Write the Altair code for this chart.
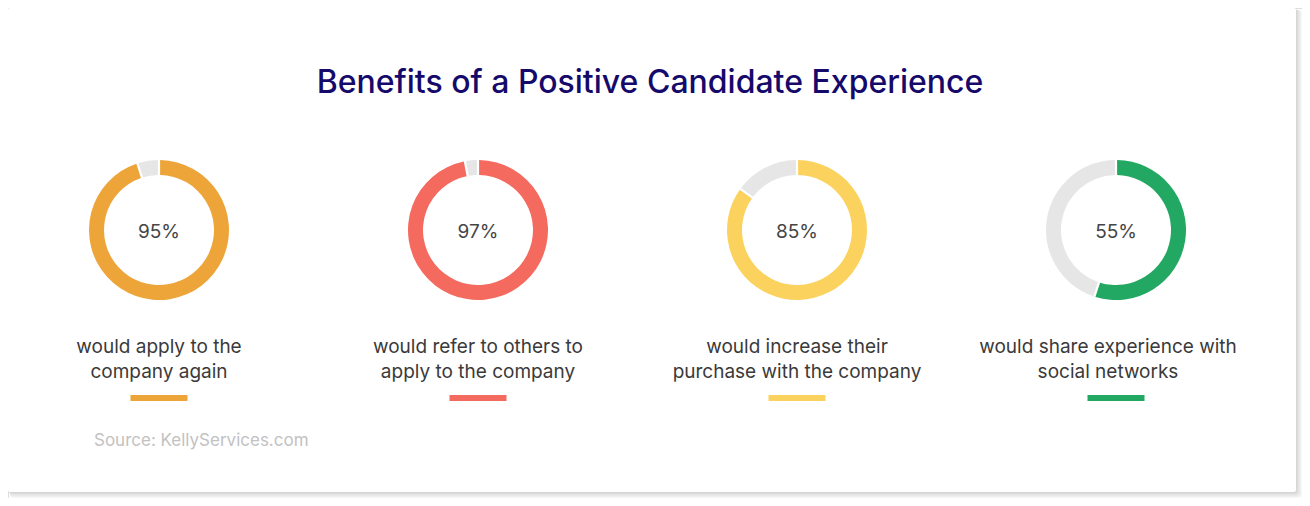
"""Donut summary card: benefits of a positive candidate experience."""

import altair as alt
import pandas as pd

# data
items = ["apply", "refer", "purchase", "share"]
percents = [95, 97, 85, 55]
line1 = ["would apply to the", "would refer to others to", "would increase their", "would share experience with"]
line2 = ["company again", "apply to the company", "purchase with the company", "social networks"]
colors = ["#EDA539", "#F46A5F", "#FCD25E", "#22A862"]
rest_color = "#E6E6E6"

title_text = "Benefits of a Positive Candidate Experience"
source_text = "Source: KellyServices.com"

FONT = "Inter"
W, H = 1294, 490

# arc table: coloured part from 12 o'clock clockwise, grey remainder after it
rows = []
for item, pct in zip(items, percents):
    rows.append({"item": item, "key": item, "start": 0, "end": pct})
    rows.append({"item": item, "key": "rest", "start": pct, "end": 100})
df_arcs = pd.DataFrame(rows)

df_items = pd.DataFrame({
    "item": items,
    "key": items,
    "pct_label": [f"{p}%" for p in percents],
    "line1": line1,
    "line2": line2,
})

x_enc = alt.X("item:N", scale=alt.Scale(type="point", domain=items, range=[151, 1108], padding=0), axis=None)
color_scale = alt.Scale(domain=items + ["rest"], range=colors + [rest_color])


def caption(field: str, y: float) -> alt.LayerChart:
    """Caption line under the donuts; the last one sits a bit left in the original."""
    base = alt.Chart(df_items).encode(x=x_enc, y=alt.value(y), text=f"{field}:N")
    style = dict(font=FONT, fontSize=19, color="#3A3A3A", align="center", baseline="middle")
    main = base.mark_text(**style).transform_filter(alt.datum.item != "share")
    last = base.mark_text(dx=-8, **style).transform_filter(alt.datum.item == "share")
    return main + last


# card with a soft drop shadow
shadow_layers = []
for i in range(1, 8):
    shadow_layers.append(
        alt.Chart(pd.DataFrame({"s": [i]}))
        .mark_rect(color="#000000", opacity=0.025, cornerRadius=3)
        .encode(
            x=alt.value(i * 0.3),
            x2=alt.value(1288 + i * 0.9),
            y=alt.value(i * 0.3),
            y2=alt.value(484 + i * 0.9),
        )
    )

card = (
    alt.Chart(pd.DataFrame({"s": [0]}))
    .mark_rect(color="white", cornerRadius=2)
    .encode(x=alt.value(0), x2=alt.value(1288), y=alt.value(0), y2=alt.value(484))
)

title = (
    alt.Chart(pd.DataFrame({"t": [title_text]}))
    .mark_text(font=FONT, fontSize=32, fontWeight=500, color="#150A6B", align="center", baseline="middle")
    .encode(text="t:N", x=alt.value(642), y=alt.value(75))
)

arcs = (
    alt.Chart(df_arcs)
    .mark_arc(radius=70, radius2=55, padAngle=0.025)
    .encode(
        x=x_enc,
        y=alt.value(222),
        theta=alt.Theta("start:Q", scale=alt.Scale(domain=[0, 100])),
        theta2="end:Q",
        color=alt.Color("key:N", scale=color_scale, legend=None),
    )
)

pct_text = (
    alt.Chart(df_items)
    .mark_text(font=FONT, fontSize=19, color="#454545", align="center", baseline="middle")
    .encode(x=x_enc, y=alt.value(224), text="pct_label:N")
)

bars = (
    alt.Chart(df_items)
    .mark_tick(orient="horizontal", size=57, thickness=6, opacity=1)
    .encode(x=x_enc, y=alt.value(390), color=alt.Color("key:N", scale=color_scale, legend=None))
)

source = (
    alt.Chart(pd.DataFrame({"t": [source_text]}))
    .mark_text(font=FONT, fontSize=17, color="#C2C2C2", align="left", baseline="middle")
    .encode(text="t:N", x=alt.value(86), y=alt.value(433))
)

chart = (
    alt.layer(
        *shadow_layers, card, title, arcs, pct_text,
        caption("line1", 339), caption("line2", 364), bars, source,
    )
    .properties(width=W, height=H, padding=0, autosize=alt.AutoSizeParams(type="none"))
    .configure_view(strokeWidth=0)
    .configure(background="white")
)

chart.save("out.html", embed_options={"renderer": "svg", "actions": False})
